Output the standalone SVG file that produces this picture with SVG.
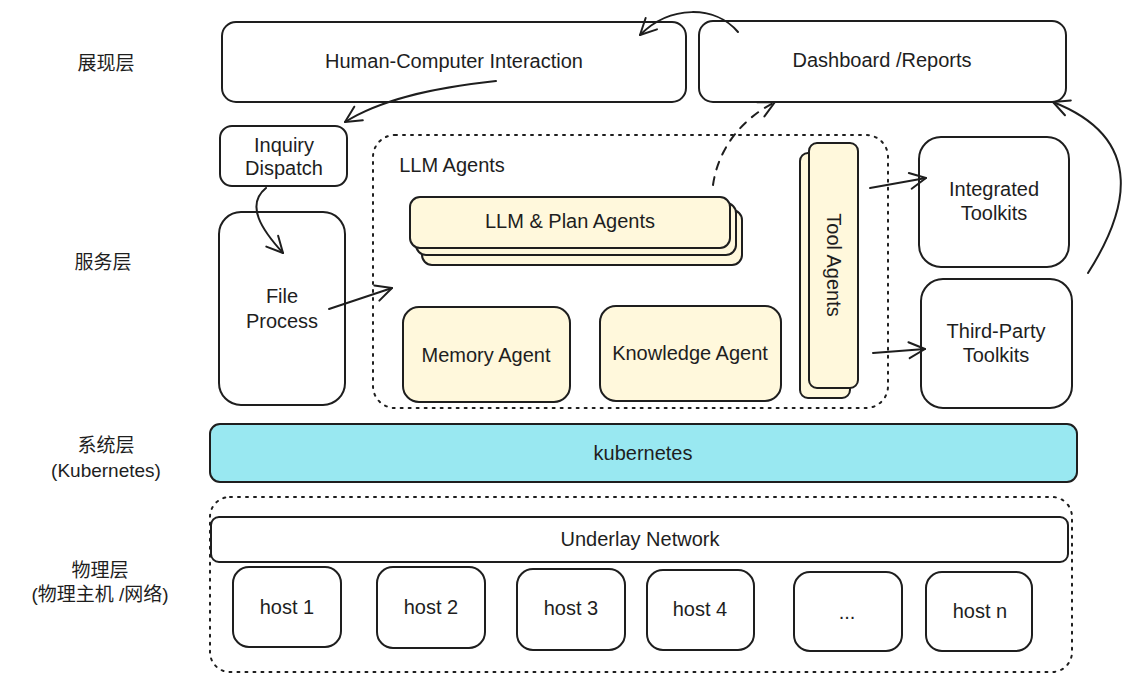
<svg xmlns="http://www.w3.org/2000/svg" width="1139" height="682" viewBox="0 0 1139 682">
<defs>
<marker id="ah" viewBox="0 0 20 20" refX="18" refY="10" markerWidth="20" markerHeight="20" markerUnits="userSpaceOnUse" orient="auto">
<path d="M2,2 L18,10 L2,18" fill="none" stroke="#1e1e1e" stroke-width="2" stroke-linecap="round" stroke-linejoin="round"/>
</marker>
<style>
.b{fill:#fff;stroke:#1e1e1e;stroke-width:2}
.y{fill:#fff8dc;stroke:#1e1e1e;stroke-width:2}
.k{fill:#99e8f1;stroke:#1e1e1e;stroke-width:2}
.d{fill:none;stroke:#1e1e1e;stroke-width:2;stroke-dasharray:2 6;stroke-linecap:round}
.t{font-family:"Liberation Sans","Noto Sans",sans-serif;font-size:20px;fill:#1e1e1e;text-anchor:middle;dominant-baseline:central}
.l{font-family:"Liberation Sans","Noto Sans CJK SC",sans-serif;font-size:19px;fill:#1e1e1e;text-anchor:middle;dominant-baseline:central}
.c{fill:none;stroke:#1e1e1e;stroke-width:2;stroke-linecap:round;marker-end:url(#ah)}
</style>
</defs>
<rect width="1139" height="682" fill="#fff"/>
<g id="labels">
<text class="l" x="106" y="63">展现层</text>
<text class="l" x="103" y="262">服务层</text>
<text class="l" x="106" y="445">系统层</text>
<text class="l" x="106" y="470">(Kubernetes)</text>
<text class="l" x="100" y="570">物理层</text>
<text class="l" x="100" y="594">(物理主机 /网络)</text>
</g>
<g id="hci"><rect class="b" x="222" y="22" width="464" height="80" rx="14"/><text class="t" x="454" y="61">Human-Computer Interaction</text></g>
<g id="dashboard"><rect class="b" x="699" y="21" width="367" height="81" rx="14"/><text class="t" x="882" y="60">Dashboard /Reports</text></g>
<g id="inquiry"><rect class="b" x="220" y="126" width="127" height="60" rx="12"/><text class="t" x="284" y="145">Inquiry</text><text class="t" x="284" y="168">Dispatch</text></g>
<g id="file"><rect class="b" x="219" y="212" width="126" height="193" rx="22"/><text class="t" x="282" y="296">File</text><text class="t" x="282" y="321">Process</text></g>
<g id="llm-agents"><rect class="d" x="373" y="135" width="515" height="273" rx="22"/><text class="t" x="452" y="165">LLM Agents</text></g>
<g id="llm-plan">
<rect class="y" x="422" y="210" width="320" height="55" rx="10"/>
<rect class="y" x="416" y="203" width="320" height="52" rx="10"/>
<rect class="y" x="410" y="197" width="320" height="51" rx="10"/>
<text class="t" x="570" y="221">LLM &amp; Plan Agents</text></g>
<g id="memory"><rect class="y" x="403" y="307" width="167" height="95" rx="16"/><text class="t" x="486" y="355">Memory Agent</text></g>
<g id="knowledge"><rect class="y" x="600" y="306" width="181" height="95" rx="16"/><text class="t" x="690" y="353">Knowledge Agent</text></g>
<g id="tool-agents">
<rect class="y" x="800" y="153" width="50" height="245" rx="8"/>
<rect class="y" x="809" y="143" width="49" height="245" rx="8"/>
<text class="t" x="834" y="265" transform="rotate(90 834 265)">Tool Agents</text></g>
<g id="integrated"><rect class="b" x="919" y="137" width="150" height="130" rx="22"/><text class="t" x="994" y="189">Integrated</text><text class="t" x="994" y="213">Toolkits</text></g>
<g id="third-party"><rect class="b" x="921" y="279" width="151" height="129" rx="22"/><text class="t" x="996" y="331">Third-Party</text><text class="t" x="996" y="355">Toolkits</text></g>
<g id="kubernetes"><rect class="k" x="210" y="424" width="867" height="58" rx="10"/><text class="t" x="643" y="453">kubernetes</text></g>
<g id="physical"><rect class="d" x="210" y="497" width="862" height="175" rx="20"/></g>
<g id="underlay"><rect class="b" x="211" y="517" width="857" height="45" rx="8"/><text class="t" x="640" y="539">Underlay Network</text></g>
<g id="host1"><rect class="b" x="233" y="567" width="108" height="80" rx="16"/><text class="t" x="287" y="607">host 1</text></g>
<g id="host2"><rect class="b" x="377" y="567" width="108" height="81" rx="16"/><text class="t" x="431" y="607">host 2</text></g>
<g id="host3"><rect class="b" x="517" y="569" width="108" height="81" rx="16"/><text class="t" x="571" y="608">host 3</text></g>
<g id="host4"><rect class="b" x="647" y="570" width="107" height="80" rx="16"/><text class="t" x="700" y="609">host 4</text></g>
<g id="hostdots"><rect class="b" x="794" y="572" width="108" height="79" rx="16"/><text class="t" x="847" y="612">...</text></g>
<g id="hostn"><rect class="b" x="926" y="572" width="106" height="79" rx="16"/><text class="t" x="980" y="611">host n</text></g>
<g id="connectors">
<path class="c" d="M738,32 C715,5 670,5 640,35"/>
<path class="c" d="M496,81 C430,88 380,100 345,122"/>
<path class="c" d="M266,188 C245,205 262,230 283,253"/>
<path class="c" d="M329,309 L392,288"/>
<path class="c" d="M713,185 C718,150 740,120 775,102" stroke-dasharray="8 8"/>
<path class="c" d="M870,188 L926,178"/>
<path class="c" d="M873,353 L925,349"/>
<path class="c" d="M1088,273 C1125,215 1150,140 1053,102"/>
</g>
</svg>
